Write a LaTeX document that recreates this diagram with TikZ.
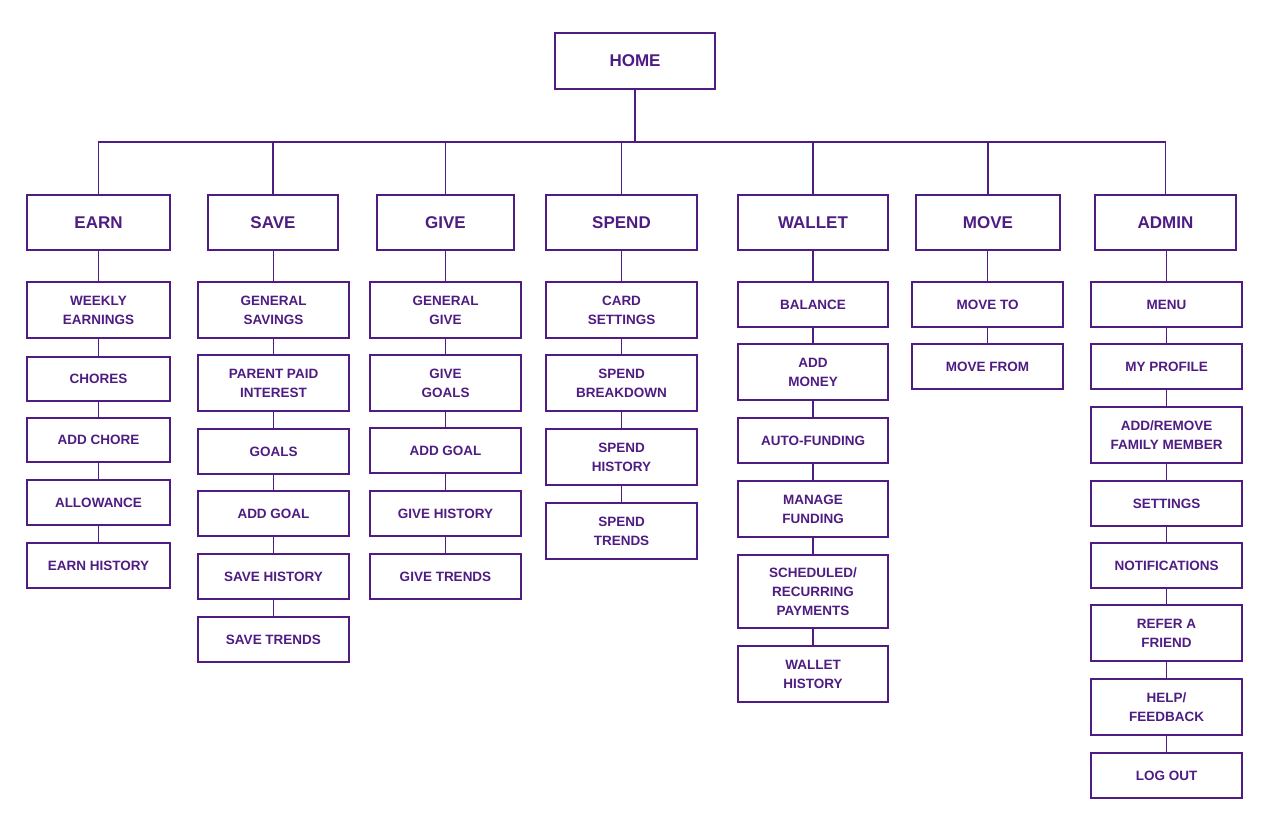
\documentclass[tikz,border=0pt]{standalone}
\usepackage{fontspec}
\setmainfont{Liberation Sans}
\definecolor{pur}{HTML}{4E1C82}
\begin{document}
\begin{tikzpicture}[x=1pt,y=1pt,
  box/.style={draw=pur,line width=1.6pt,text=pur,font=\bfseries\fontsize{13.5}{19}\selectfont,align=center,inner sep=0pt},
  top/.style={font=\bfseries\fontsize{17}{19}\selectfont},
  ln/.style={draw=pur,line width=1.6pt}]
\useasboundingbox (0,0) rectangle (1272,-829);
\newcommand\bx[7][]{\node[box,#1,minimum width={(#4-#3)*1pt},minimum height={(#6-#5)*1pt}] (#2) at ({(#3+#4)/2},{-(#5+#6)/2}) {#7};}
\bx[top]{home}{555}{715}{33}{89}{HOME}
\bx[top]{earn}{27}{170}{195}{250}{EARN}
\bx[top]{save}{208}{338}{195}{250}{SAVE}
\bx[top]{give}{377}{514}{195}{250}{GIVE}
\bx[top]{spend}{546}{697}{195}{250}{SPEND}
\bx[top]{wallet}{738}{888}{195}{250}{WALLET}
\bx[top]{move}{916}{1060}{195}{250}{MOVE}
\bx[top]{admin}{1095}{1236}{195}{250}{ADMIN}
% earn
\bx{e1}{27}{170}{282}{338}{WEEKLY\\EARNINGS}
\bx{e2}{27}{170}{357}{401}{CHORES}
\bx{e3}{27}{170}{418}{462}{ADD CHORE}
\bx{e4}{27}{170}{480}{525}{ALLOWANCE}
\bx{e5}{27}{170}{543}{588}{EARN HISTORY}
% save
\bx{s1}{198}{349}{282}{338}{GENERAL\\SAVINGS}
\bx{s2}{198}{349}{355}{411}{PARENT PAID\\INTEREST}
\bx{s3}{198}{349}{429}{474}{GOALS}
\bx{s4}{198}{349}{491}{536}{ADD GOAL}
\bx{s5}{198}{349}{554}{599}{SAVE HISTORY}
\bx{s6}{198}{349}{617}{662}{SAVE TRENDS}
% give
\bx{g1}{370}{521}{282}{338}{GENERAL\\GIVE}
\bx{g2}{370}{521}{355}{411}{GIVE\\GOALS}
\bx{g3}{370}{521}{428}{473}{ADD GOAL}
\bx{g4}{370}{521}{491}{536}{GIVE HISTORY}
\bx{g5}{370}{521}{554}{599}{GIVE TRENDS}
% spend
\bx{p1}{546}{697}{282}{338}{CARD\\SETTINGS}
\bx{p2}{546}{697}{355}{411}{SPEND\\BREAKDOWN}
\bx{p3}{546}{697}{429}{485}{SPEND\\HISTORY}
\bx{p4}{546}{697}{503}{559}{SPEND\\TRENDS}
% wallet
\bx{w1}{738}{888}{282}{327}{BALANCE}
\bx{w2}{738}{888}{344}{400}{ADD\\MONEY}
\bx{w3}{738}{888}{418}{463}{AUTO-FUNDING}
\bx{w4}{738}{888}{481}{537}{MANAGE\\FUNDING}
\bx{w5}{738}{888}{555}{628}{SCHEDULED/\\RECURRING\\PAYMENTS}
\bx{w6}{738}{888}{646}{702}{WALLET\\HISTORY}
% move
\bx{m1}{912}{1063}{282}{327}{MOVE TO}
\bx{m2}{912}{1063}{344}{389}{MOVE FROM}
% admin
\bx{a1}{1091}{1242}{282}{327}{MENU}
\bx{a2}{1091}{1242}{344}{389}{MY PROFILE}
\bx{a3}{1091}{1242}{407}{463}{ADD/REMOVE\\FAMILY MEMBER}
\bx{a4}{1091}{1242}{481}{526}{SETTINGS}
\bx{a5}{1091}{1242}{543}{588}{NOTIFICATIONS}
\bx{a6}{1091}{1242}{605}{661}{REFER A\\FRIEND}
\bx{a7}{1091}{1242}{679}{735}{HELP/\\FEEDBACK}
\bx{a8}{1091}{1242}{753}{798}{LOG OUT}
% connectors
\coordinate (busL) at (98,-142);
\coordinate (busR) at (1166,-142);
\draw[ln] (home.south) -- (home.south |- busL);
\draw[ln] (busL) -- (busR);
\foreach \t in {earn,save,give,spend,wallet,move,admin}
  \draw[ln] (\t.north) -- (\t.north |- busL);
\foreach \a/\b in {earn/e1,e1/e2,e2/e3,e3/e4,e4/e5,
  save/s1,s1/s2,s2/s3,s3/s4,s4/s5,s5/s6,
  give/g1,g1/g2,g2/g3,g3/g4,g4/g5,
  spend/p1,p1/p2,p2/p3,p3/p4,
  wallet/w1,w1/w2,w2/w3,w3/w4,w4/w5,w5/w6,
  move/m1,m1/m2,
  admin/a1,a1/a2,a2/a3,a3/a4,a4/a5,a5/a6,a6/a7,a7/a8}
  \draw[ln] (\b.north) -- (\b.north |- \a.south);
\end{tikzpicture}
\end{document}
